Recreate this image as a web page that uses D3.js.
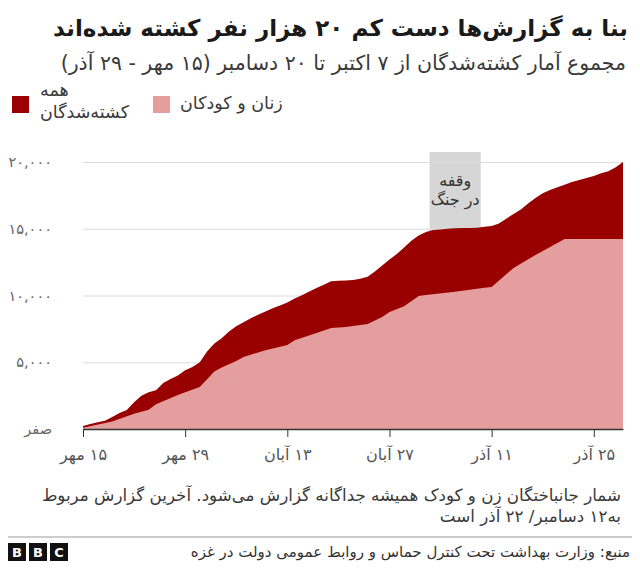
<!DOCTYPE html>
<html lang="fa">
<head>
<meta charset="utf-8">
<script src="https://cdn.jsdelivr.net/npm/d3@7"></script>
<style>
  body { margin: 0; background: #fff; }
  svg text { font-family: 'DejaVu Sans', 'Noto Sans', sans-serif; }
</style>
</head>
<body>
<svg id="chart" width="640" height="568"></svg>
<script>
"use strict";

// total killed, daily from 7 Oct to 20 Dec
var totalDates = d3.timeDays(new Date(2023, 9, 7), new Date(2023, 11, 21));
var totalValues = [
    232, 370, 500, 620, 900, 1200, 1420, 2000, 2500, 2750, 2900, 3450, 3750, 4000, 4400, 4650, 5000, 5800, 6400, 6800, 7300, 7700, 8000, 8300, 8550,
    8800, 9050, 9250, 9480, 9770, 10020, 10300, 10560, 10810, 11070, 11100, 11120, 11160, 11250, 11400, 11800, 12250, 12700, 13100, 13600, 14100, 14500, 14750, 14900, 14950, 15000, 15040, 15060, 15060, 15070,
    15150, 15200, 15400, 15750, 16100, 16450, 16900, 17300, 17650, 17900, 18100, 18300, 18500, 18650, 18800, 18950, 19150, 19300, 19600, 20000
];

// women and children (reported less often)
var wcDates = ["2023-10-07", "2023-10-11", "2023-10-14", "2023-10-16", "2023-10-17", "2023-10-20", "2023-10-21", "2023-10-23",
    "2023-10-25", "2023-10-26", "2023-10-28", "2023-10-29", "2023-11-01", "2023-11-04", "2023-11-05", "2023-11-08", "2023-11-10",
    "2023-11-12", "2023-11-15", "2023-11-17", "2023-11-18", "2023-11-20", "2023-11-22", "2023-11-23", "2023-11-27", "2023-12-01",
    "2023-12-02", "2023-12-05", "2023-12-08", "2023-12-12", "2023-12-20"];
var wcValues = [100, 560, 1150, 1450, 1850, 2550, 2750, 3150, 4300, 4600, 5100, 5400, 5900, 6300, 6650, 7200, 7570,
    7640, 7870, 8390, 8760, 9200, 9970, 10030, 10280, 10580, 10640, 12060, 13030, 14230, 14230];

var pauseDates = ["2023-11-23T12:00", "2023-11-30T12:00"];
var pauseLabel = ["وقفه", "در جنگ"];

var xTickDates = ["2023-10-07", "2023-10-21", "2023-11-04", "2023-11-18", "2023-12-02", "2023-12-16"];
var xTickLabels = ["۱۵ مهر", "۲۹ مهر", "۱۳ آبان", "۲۷ آبان", "۱۱ آذر", "۲۵ آذر"];
var yTicks = [0, 5000, 10000, 15000, 20000];
var yTickLabels = ["صفر", "۵,۰۰۰", "۱۰,۰۰۰", "۱۵,۰۰۰", "۲۰,۰۰۰"];

var legendLabels = [["همه", "کشته\u200cشدگان"], ["زنان و کودکان"]];

var title = "بنا به گزارش\u200cها دست کم ۲۰ هزار نفر کشته شده\u200cاند";
var subtitle = "مجموع آمار کشته\u200cشدگان از ۷ اکتبر تا ۲۰ دسامبر (۱۵ مهر - ۲۹ آذر)";
var note = ["شمار جانباختگان زن و کودک همیشه جداگانه گزارش می\u200cشود. آخرین گزارش مربوط", "به۱۲ دسامبر/ ۲۲ آذر است"];
var source = "منبع: وزارت بهداشت تحت کنترل حماس و روابط عمومی دولت در غزه";

var darkRed = "#990000";
var pink = "#e59e9e";

var parseDay = d3.timeParse("%Y-%m-%d");
var parseHour = d3.timeParse("%Y-%m-%dT%H:%M");

var svg = d3.select("#chart");

var x = d3.scaleTime()
    .domain([new Date(2023, 9, 7), new Date(2023, 11, 20)])
    .range([83, 623]);

var y = d3.scaleLinear()
    .domain([0, 20000])
    .range([429, 162]);

// header
svg.append("text")
    .attr("x", 628).attr("y", 36)
    .attr("direction", "rtl").attr("text-anchor", "start")
    .attr("font-size", 23).attr("font-weight", "bold").attr("fill", "#1a1a1a")
    .text(title);

svg.append("text")
    .attr("x", 626).attr("y", 70)
    .attr("direction", "rtl").attr("text-anchor", "start")
    .attr("font-size", 20.5).attr("fill", "#3a3a3a")
    .text(subtitle);

// legend
var legend = svg.append("g");
legend.append("rect").attr("x", 12).attr("y", 96).attr("width", 17).attr("height", 17).attr("fill", darkRed);
legend.append("rect").attr("x", 153).attr("y", 96).attr("width", 17).attr("height", 17).attr("fill", pink);
legend.selectAll(".lg0").data(legendLabels[0]).enter().append("text")
    .attr("x", 40).attr("y", function (d, i) { return 96 + i * 22; })
    .attr("direction", "rtl").attr("text-anchor", "end")
    .attr("font-size", 17.5).attr("fill", "#3a3a3a")
    .text(function (d) { return d; });
legend.append("text")
    .attr("x", 180).attr("y", 109)
    .attr("direction", "rtl").attr("text-anchor", "end")
    .attr("font-size", 17.5).attr("fill", "#3a3a3a")
    .text(legendLabels[1][0]);

// ceasefire band
var px0 = x(parseHour(pauseDates[0])), px1 = x(parseHour(pauseDates[1]));
svg.append("rect")
    .attr("x", px0).attr("y", 152)
    .attr("width", px1 - px0).attr("height", y(0) - 152)
    .attr("fill", "#d6d6d6");
svg.selectAll(".pause").data(pauseLabel).enter().append("text")
    .attr("x", (px0 + px1) / 2).attr("y", function (d, i) { return 186 + i * 19; })
    .attr("text-anchor", "middle").attr("direction", "rtl")
    .attr("font-size", 16).attr("fill", "#333")
    .text(function (d) { return d; });

// y axis with gridlines
var yAxis = svg.append("g")
    .attr("transform", "translate(83,0)")
    .call(d3.axisLeft(y)
        .tickValues(yTicks)
        .tickSize(-540)
        .tickPadding(31)
        .tickFormat(function (d, i) { return yTickLabels[i]; }));
yAxis.select(".domain").remove();
yAxis.selectAll("line").attr("stroke", "#dcdcdc");
yAxis.selectAll("text")
    .attr("font-family", "'DejaVu Sans', sans-serif")
    .attr("font-size", 14.5).attr("fill", "#666");

// areas
var totalData = totalDates.map(function (d, i) { return { date: d, value: totalValues[i] }; });
var wcData = wcDates.map(function (d, i) { return { date: parseDay(d), value: wcValues[i] }; });

var area = d3.area()
    .x(function (d) { return x(d.date); })
    .y0(y(0))
    .y1(function (d) { return y(d.value); });

svg.append("path").datum(totalData).attr("d", area).attr("fill", darkRed);
svg.append("path").datum(wcData).attr("d", area).attr("fill", pink);

// x axis
var xAxis = svg.append("g")
    .attr("transform", "translate(0," + y(0) + ")")
    .call(d3.axisBottom(x)
        .tickValues(xTickDates.map(parseDay))
        .tickSize(8)
        .tickSizeOuter(0)
        .tickPadding(12)
        .tickFormat(function (d, i) { return xTickLabels[i]; }));
xAxis.select(".domain").attr("stroke", "#333").attr("stroke-width", 1.5);
xAxis.selectAll("line").attr("stroke", "#333");
xAxis.selectAll("text")
    .attr("font-family", "'DejaVu Sans', sans-serif")
    .attr("direction", "rtl")
    .attr("font-size", 16).attr("fill", "#555");

// footnote
svg.selectAll(".note").data(note).enter().append("text")
    .attr("x", 621).attr("y", function (d, i) { return 501 + i * 21; })
    .attr("direction", "rtl").attr("text-anchor", "start")
    .attr("font-size", 16.7).attr("fill", "#3a3a3a")
    .text(function (d) { return d; });

svg.append("line")
    .attr("x1", 8).attr("x2", 632).attr("y1", 537).attr("y2", 537)
    .attr("stroke", "#999").attr("stroke-width", 1);

// BBC blocks
var bbc = svg.append("g").attr("transform", "translate(8,543)");
bbc.selectAll("rect").data(["B", "B", "C"]).enter().append("rect")
    .attr("x", function (d, i) { return i * 21; }).attr("width", 18).attr("height", 18).attr("fill", "#111");
bbc.selectAll("text").data(["B", "B", "C"]).enter().append("text")
    .attr("x", function (d, i) { return i * 21 + 9; }).attr("y", 14)
    .attr("text-anchor", "middle").attr("font-size", 13).attr("font-weight", "bold")
    .attr("fill", "#fff").attr("font-family", "'Liberation Sans', Arial, sans-serif")
    .text(function (d) { return d; });

svg.append("text")
    .attr("x", 630).attr("y", 557)
    .attr("direction", "rtl").attr("text-anchor", "start")
    .attr("font-size", 15).attr("fill", "#333")
    .text(source);
</script>
</body>
</html>
